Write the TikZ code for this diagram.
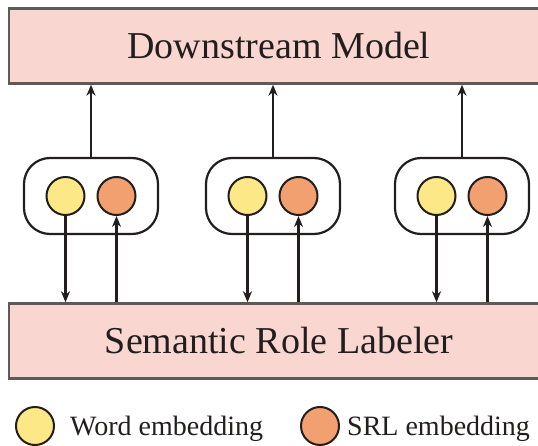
\documentclass[tikz,border=0pt]{standalone}
\usepackage{fontspec}
\setmainfont{Liberation Serif}
\usetikzlibrary{arrows.meta}
\definecolor{boxpink}{RGB}{249,214,208}
\definecolor{wordyellow}{RGB}{252,232,135}
\definecolor{srlorange}{RGB}{243,160,112}
\definecolor{edgegray}{RGB}{95,90,90}
\definecolor{inkdark}{RGB}{35,30,30}
\tikzset{
  block/.style={draw=edgegray, line width=2.4pt, fill=boxpink, minimum width=540pt,
    minimum height=75pt, text=inkdark, font=\fontsize{38}{42}\selectfont},
  group/.style={draw=inkdark, line width=2.2pt, rounded corners=26pt, minimum width=134pt,
    minimum height=76pt},
  emb/.style={circle, draw=inkdark, line width=2pt, minimum size=38pt, inner sep=0pt},
  flow/.style={-{Stealth[length=11pt,width=9pt]}, draw=inkdark, fill=inkdark, line width=2.2pt},
  keytext/.style={font=\fontsize{28}{30}\selectfont, text=inkdark, anchor=base west, inner sep=0pt}
}
\begin{document}
\begin{tikzpicture}[x=1pt,y=-1pt]
\useasboundingbox (0,0) rectangle (538,446);
\node[block] (downstream) at (279,46) {Downstream Model};
\node[block] (labeler) at (279,341) {Semantic Role Labeler};
% embedding pairs
\foreach \i/\x in {1/91,2/273,3/462}{
  \node[group] (grp\i) at (\x,196) {};
  \node[emb, fill=wordyellow] (word\i) at (\x-25.5,196) {};
  \node[emb, fill=srlorange] (role\i) at (\x+25.5,196) {};
  \draw[flow] (grp\i.north) -- (downstream.south -| grp\i.north);
  \draw[flow] (word\i.south) -- (labeler.north -| word\i.south);
  \draw[flow] (labeler.north -| role\i.south) -- (role\i.south);
}
% legend
\node[emb, fill=wordyellow] (keyword) at (35,426) {};
\node[keytext] (keywordtext) at (70,435) {Word embedding};
\node[emb, fill=srlorange] (keyrole) at (320,426) {};
\node[keytext] (keyroletext) at (347,435) {SRL embedding};
\end{tikzpicture}
\end{document}
